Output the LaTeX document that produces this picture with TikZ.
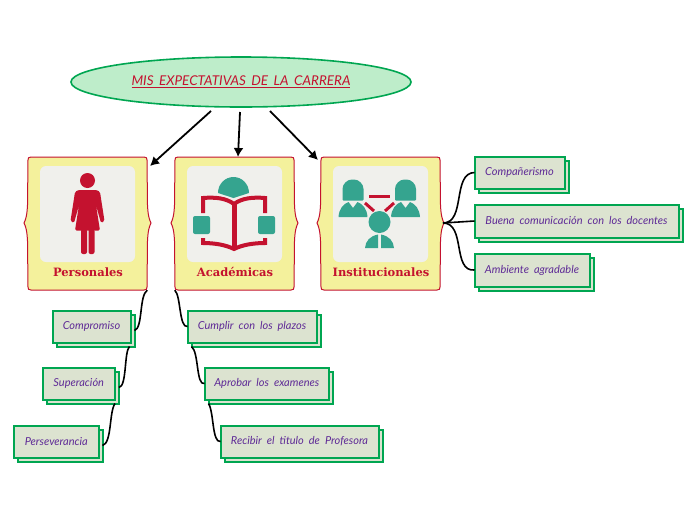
\documentclass[tikz,border=0pt]{standalone}
\usepackage{fontspec}
\usetikzlibrary{arrows.meta,shapes.geometric}
\setmainfont{Lato}
\newfontfamily\headfont{DejaVu Serif}
\definecolor{crim}{HTML}{C4122F}
\definecolor{purp}{HTML}{5E2A96}
\definecolor{grn}{HTML}{00A651}
\definecolor{boxfill}{HTML}{DCE3D0}
\definecolor{yel}{HTML}{F4F19C}
\definecolor{pale}{HTML}{F0F0EC}
\definecolor{teal2}{HTML}{35A48F}
\definecolor{mint}{HTML}{BEEDCA}
\newcommand{\widespace}[1]{\spaceskip=#1pt plus 0pt minus 0pt\relax}
\tikzset{
  boxbase/.style={draw=grn,line width=2pt,fill=boxfill,inner sep=0pt,outer sep=0pt,anchor=north west},
  leaf/.style={boxbase,text=purp,font=\fontsize{11}{13}\selectfont\itshape\widespace{5},align=center},
  link/.style={black,line width=1.6pt},
  bigarrow/.style={black,line width=1.8pt,-{Latex[length=9pt,width=10pt]}},
  panel/.style={fill=pale,rounded corners=6pt},
  cardtitle/.style={text=crim,font=\headfont\bfseries\fontsize{11.5}{14}\selectfont,inner sep=0pt},
  ghost/.style={minimum width=119pt,minimum height=133pt,inner sep=0pt},
  redline/.style={crim,line width=3pt},
  bookline/.style={crim,line width=4pt,line join=miter}
}
% #1 name, #2 x, #3 y, #4 width, #5 height, #6 text
\newcommand{\leafbox}[6]{%
  \node[boxbase,minimum width=#4pt-1pt,minimum height=#5pt-1pt] (#1s) at (#2+4.5,#3+4.5) {};
  \node[leaf,minimum width=#4pt-1pt,minimum height=#5pt-1pt] (#1) at (#2+.5,#3+.5) {\raisebox{1pt}{#6}};
}
% #1 name, #2 x, #3 title
\newcommand{\cardshape}[3]{%
  \begin{scope}[xshift=#2pt]
    \fill[yel,draw=crim,line width=1pt]
      (3,157) -- (116,157) .. controls (118.5,157) and (119,158) .. (119,160)
      -- (119.5,205) .. controls (120,215) and (121,219) .. (123,223)
      .. controls (121,227) and (120,231) .. (119.5,241)
      -- (119,287) .. controls (119,289) and (118.5,290) .. (116,290)
      -- (3,290) .. controls (0.5,290) and (0,289) .. (0,287)
      -- (-0.5,241) .. controls (-1,231) and (-2,227) .. (-4,223)
      .. controls (-2,219) and (-1,215) .. (-0.5,205)
      -- (0,160) .. controls (0,158) and (0.5,157) .. (3,157) -- cycle;
    \fill[panel] (12,166) rectangle (107,262);
    \node[ghost] (#1) at (59.5,223.5) {};
    \node[cardtitle] (#1t) at (60,272) {#3};
  \end{scope}
}
\begin{document}
\begin{tikzpicture}[x=1pt,y=-1pt]
\useasboundingbox (0,0) rectangle (696,520);
% root
\node[ellipse,draw=grn,line width=1.6pt,fill=mint,minimum width=340pt,minimum height=50pt,inner sep=0pt,
  text=crim,font=\fontsize{13.5}{15}\selectfont\itshape\widespace{5.5}] (root) at (241,82) {\underline{MIS EXPECTATIVAS DE LA CARRERA}};
% cards
\cardshape{pers}{28}{Personales}
\cardshape{acad}{175}{Académicas}
\cardshape{inst}{321}{Institucionales}
% arrows
\coordinate (r1) at (211,111); \coordinate (r2) at (240,112); \coordinate (r3) at (270,111);
\coordinate (a1) at (150,166); \coordinate (a2) at (238,157); \coordinate (a3) at (318,160);
\draw[bigarrow] (r1) -- (a1);
\draw[bigarrow] (r2) -- (a2);
\draw[bigarrow] (r3) -- (a3);
% leaves
\leafbox{comp}{52}{310}{79}{33}{Compromiso}
\leafbox{supe}{42}{367}{73.5}{33}{Superación}
\leafbox{perse}{13.5}{425}{85.5}{33}{Perseverancia}
\leafbox{cump}{187}{310}{130}{33}{Cumplir con los plazos}
\leafbox{apro}{204}{367}{125.5}{33}{Aprobar los examenes}
\leafbox{reci}{220}{425}{159}{33}{Recibir el titulo de Profesora}
\leafbox{comn}{474}{156}{91}{33}{Compañerismo}
\leafbox{buen}{474}{204}{205}{34}{Buena comunicación con los docentes}
\leafbox{ambi}{474}{253}{116}{34}{Ambiente agradable}
% connectors
\draw[link] (pers.south east) .. controls (139,296) and (143,328) .. (comps.east);
\draw[link] ([xshift=-5pt]comps.south east) .. controls (124,352) and (127,386) .. (supes.east);
\draw[link] ([xshift=-4pt]supes.south east) .. controls (109,412) and (112,443) .. (perses.east);
\draw[link] (acad.south west) .. controls (181,296) and (179,328) .. (cump.west);
\draw[link] (cumps.south west) .. controls (199,352) and (196,386) .. (apro.west);
\draw[link] (apros.south west) .. controls (214,412) and (212,443) .. (reci.west);
\coordinate (itip) at (443,223);
\draw[link] (itip) .. controls (466,223) and (452,173) .. (comn.west);
\draw[link] (itip) -- (buen.west);
\draw[link] (itip) .. controls (466,223) and (452,272) .. (ambi.west);
% woman icon
\fill[crim] (87.5,180.5) circle (7.5);
\fill[crim,rounded corners=1.5pt] (78,190) -- (97,190) -- (100,192) -- (104.5,221) -- (101,223) -- (96,205) -- (100,230.5) -- (75,230.5) -- (79,205) -- (74,223) -- (70.5,221) -- (75,192) -- cycle;
\fill[crim,rounded corners=2pt] (81,229) rectangle (87,254);
\fill[crim,rounded corners=2pt] (88.5,229) rectangle (94.5,254);
% book icon
\fill[teal2] (218,193) .. controls (218,184) and (225,177) .. (233.5,177) .. controls (242,177) and (249,184) .. (249,193) -- (233.5,198) -- cycle;
\draw[bookline] (203,213) -- (203,198) .. controls (215,197) and (226,198) .. (234,204) .. controls (242,198) and (253,197) .. (265,198) -- (265,213);
\draw[bookline] (203,238) -- (203,243) .. controls (215,243) and (226,245) .. (234,249) .. controls (242,245) and (253,243) .. (265,243) -- (265,238);
\draw[crim,line width=5pt] (234,204) -- (234,250);
\fill[teal2,rounded corners=2pt] (193,216) rectangle (210,234);
\fill[teal2,rounded corners=2pt] (258,216) rectangle (275,234);
% people icon
\foreach \cx in {353,405.5}{
  \fill[teal2,rounded corners=1pt] (\cx-10.5,200.5) -- (\cx-10.5,190) .. controls (\cx-10.5,184) and (\cx-6,179.5) .. (\cx,179.5) .. controls (\cx+6,179.5) and (\cx+10.5,184) .. (\cx+10.5,190) -- (\cx+10.5,200.5) -- cycle;
  \fill[teal2] (\cx-14.5,217) .. controls (\cx-14,209) and (\cx-10,204) .. (\cx-4.5,202) -- (\cx,208) -- (\cx+4.5,202) .. controls (\cx+10,204) and (\cx+14,209) .. (\cx+14.5,217) -- cycle;
}
\fill[pale] (379.5,222) circle (13);
\fill[teal2] (379.5,222) circle (11);
\fill[teal2] (365,248) .. controls (365.5,241) and (370,236) .. (378,234.5) -- (378,248) -- cycle;
\fill[teal2] (394,248) .. controls (393.5,241) and (389,236) .. (381,234.5) -- (381,248) -- cycle;
\draw[redline] (369,196.5) -- (390,196.5);
\draw[redline] (365,203) -- (374,211);
\draw[redline] (394,203) -- (385,211);
\end{tikzpicture}
\end{document}
